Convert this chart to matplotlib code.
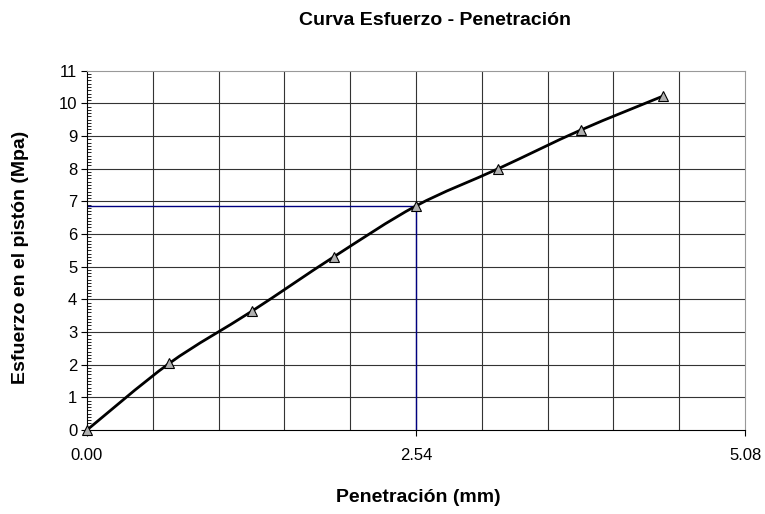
import numpy as np
import matplotlib
matplotlib.use("Agg")
import matplotlib.pyplot as plt
from matplotlib.path import Path
from matplotlib.patches import PathPatch
from matplotlib.ticker import MultipleLocator, FixedLocator

plt.rcParams['font.family'] = ['Liberation Sans', 'DejaVu Sans']

# data
penetracion = [0.0, 0.635, 1.27, 1.905, 2.54, 3.175, 3.81, 4.445]
esfuerzo = [0.0, 2.04, 3.63, 5.30, 6.86, 8.00, 9.18, 10.22]
x_ticks = [0.0, 2.54, 5.08]
x_tick_labels = ['0.00', '2.54', '5.08']
ref_x = 2.54
ref_y = 6.86


def smooth_path(xs, ys):
    """Catmull-Rom style bezier path through the points (like Excel smoothed lines)"""
    pts = np.column_stack([xs, ys])
    verts = [pts[0]]
    codes = [Path.MOVETO]
    n = len(pts)
    for i in range(n - 1):
        p0 = pts[i - 1] if i > 0 else pts[i]
        p1 = pts[i]
        p2 = pts[i + 1]
        p3 = pts[i + 2] if i + 2 < n else pts[i + 1]
        c1 = p1 + (p2 - p0) / 6.0
        c2 = p2 - (p3 - p1) / 6.0
        verts += [c1, c2, p2]
        codes += [Path.CURVE4, Path.CURVE4, Path.CURVE4]
    return Path(verts, codes)


fig = plt.figure(figsize=(7.65, 5.14), dpi=100)
ax = fig.add_axes([0.1137, 0.1634, 0.974 - 0.1137, 0.8625 - 0.1634])

ax.set_xlim(0, 5.08)
ax.set_ylim(0, 11)

# grid
ax.xaxis.set_major_locator(FixedLocator(x_ticks))
ax.set_xticklabels(x_tick_labels)
ax.yaxis.set_major_locator(MultipleLocator(1))
ax.yaxis.set_minor_locator(MultipleLocator(0.1))
for v in np.arange(0.508, 5.08, 0.508):
    ax.axvline(v, color='#333333', lw=0.8, zorder=1)
for v in range(1, 11):
    ax.axhline(v, color='#333333', lw=0.8, zorder=1)

ax.tick_params(axis='both', which='major', direction='out', length=4,
               labelsize=12, color='black')
ax.tick_params(axis='y', which='minor', direction='in', length=3, width=0.6)
ax.tick_params(axis='x', pad=9)
ax.tick_params(axis='y', pad=3)

for side in ['top', 'right']:
    ax.spines[side].set_color('#999999')
for side in ['left', 'bottom']:
    ax.spines[side].set_color('black')

# reference lines
ax.plot([0, ref_x], [ref_y, ref_y], color='#000080', lw=1, zorder=2)
ax.plot([ref_x, ref_x], [0, ref_y], color='#000080', lw=1, zorder=2)

# smoothed curve + markers
ax.add_patch(PathPatch(smooth_path(penetracion, esfuerzo), facecolor='none',
                       edgecolor='black', lw=2, zorder=3, clip_on=False))
ax.plot(penetracion, esfuerzo, linestyle='none', marker='^', markersize=7,
        markerfacecolor='#b0b0b0', markeredgecolor='black', markeredgewidth=0.8,
        zorder=4, clip_on=False)

fig.text(0.569, 0.96, 'Curva Esfuerzo - Penetración', ha='center', va='center',
         fontsize=14, fontweight='bold')
fig.text(0.547, 0.033, 'Penetración (mm)', ha='center', va='center',
         fontsize=14, fontweight='bold')
fig.text(0.027, 0.5, 'Esfuerzo en el pistón (Mpa)', ha='center', va='center',
         rotation=90, fontsize=14, fontweight='bold')

fig.savefig('out.png', dpi=100)
